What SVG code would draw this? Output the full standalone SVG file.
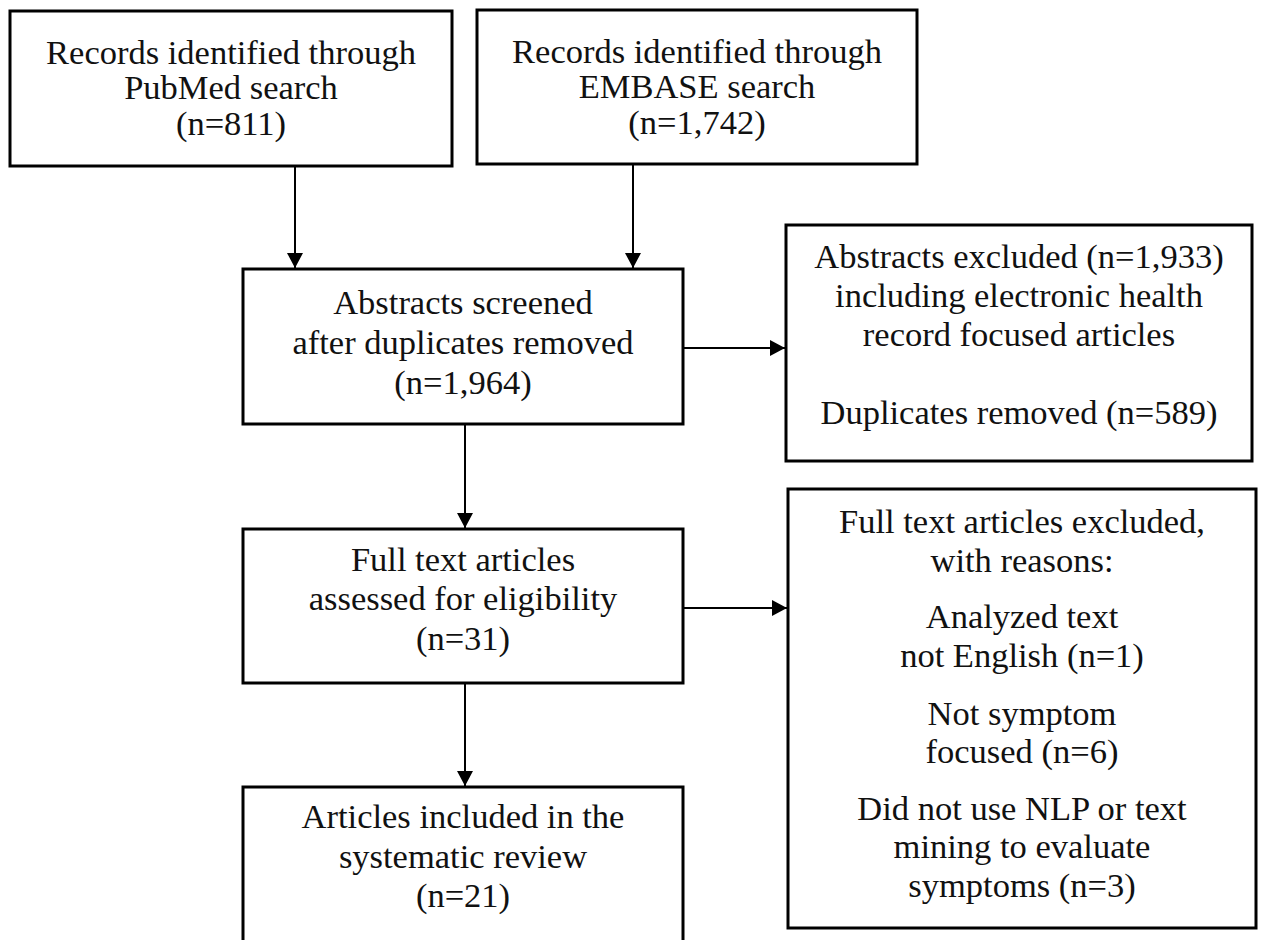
<svg xmlns="http://www.w3.org/2000/svg" width="1263" height="940" viewBox="0 0 1263 940">
  <style>
    .box { fill: #ffffff; stroke: #000000; stroke-width: 3; }
    .lbl { font-family: "Liberation Serif", "Times New Roman", serif; font-size: 34.5px; fill: #111111; text-anchor: middle; }
    .conn { stroke: #000000; stroke-width: 2; fill: none; marker-end: url(#arrow); }
  </style>
  <defs>
    <marker id="arrow" viewBox="0 0 15 16" markerWidth="15" markerHeight="16" refX="15" refY="8" orient="auto" markerUnits="userSpaceOnUse">
      <path d="M0,0 L15,8 L0,16 Z" fill="#000000"/>
    </marker>
  </defs>
  <rect x="0" y="0" width="1263" height="940" fill="#ffffff"/>

  <g id="connectors">
    <line class="conn" x1="295" y1="167" x2="295" y2="268"/>
    <line class="conn" x1="633" y1="165" x2="633" y2="268"/>
    <line class="conn" x1="465" y1="425" x2="465" y2="528"/>
    <line class="conn" x1="465" y1="684" x2="465" y2="786"/>
    <line class="conn" x1="684" y1="348" x2="785" y2="348"/>
    <line class="conn" x1="684" y1="608" x2="787" y2="608"/>
  </g>

  <g id="pubmed">
    <rect class="box" x="10" y="11" width="442" height="155"/>
    <text class="lbl" x="231" y="64">Records identified through</text>
    <text class="lbl" x="231" y="99">PubMed search</text>
    <text class="lbl" x="231" y="135">(n=811)</text>
  </g>

  <g id="embase">
    <rect class="box" x="477" y="10" width="440" height="154"/>
    <text class="lbl" x="697" y="63">Records identified through</text>
    <text class="lbl" x="697" y="98">EMBASE search</text>
    <text class="lbl" x="697" y="134">(n=1,742)</text>
  </g>

  <g id="screened">
    <rect class="box" x="243" y="269" width="440" height="155"/>
    <text class="lbl" x="463" y="314">Abstracts screened</text>
    <text class="lbl" x="463" y="354">after duplicates removed</text>
    <text class="lbl" x="463" y="394">(n=1,964)</text>
  </g>

  <g id="abstracts-excluded">
    <rect class="box" x="786" y="225" width="466" height="236"/>
    <text class="lbl" x="1019" y="268">Abstracts excluded (n=1,933)</text>
    <text class="lbl" x="1019" y="307">including electronic health</text>
    <text class="lbl" x="1019" y="346">record focused articles</text>
    <text class="lbl" x="1019" y="424">Duplicates removed (n=589)</text>
  </g>

  <g id="fulltext">
    <rect class="box" x="243" y="529" width="440" height="154"/>
    <text class="lbl" x="463" y="571">Full text articles</text>
    <text class="lbl" x="463" y="610">assessed for eligibility</text>
    <text class="lbl" x="463" y="650">(n=31)</text>
  </g>

  <g id="fulltext-excluded">
    <rect class="box" x="788" y="489" width="468" height="439"/>
    <text class="lbl" x="1022" y="533">Full text articles excluded,</text>
    <text class="lbl" x="1022" y="572">with reasons:</text>
    <text class="lbl" x="1022" y="628">Analyzed text</text>
    <text class="lbl" x="1022" y="667">not English (n=1)</text>
    <text class="lbl" x="1022" y="725">Not symptom</text>
    <text class="lbl" x="1022" y="763">focused (n=6)</text>
    <text class="lbl" x="1022" y="820">Did not use NLP or text</text>
    <text class="lbl" x="1022" y="858">mining to evaluate</text>
    <text class="lbl" x="1022" y="897">symptoms (n=3)</text>
  </g>

  <g id="included">
    <rect class="box" x="243" y="787" width="440" height="170"/>
    <text class="lbl" x="463" y="828">Articles included in the</text>
    <text class="lbl" x="463" y="868">systematic review</text>
    <text class="lbl" x="463" y="907">(n=21)</text>
  </g>
</svg>
